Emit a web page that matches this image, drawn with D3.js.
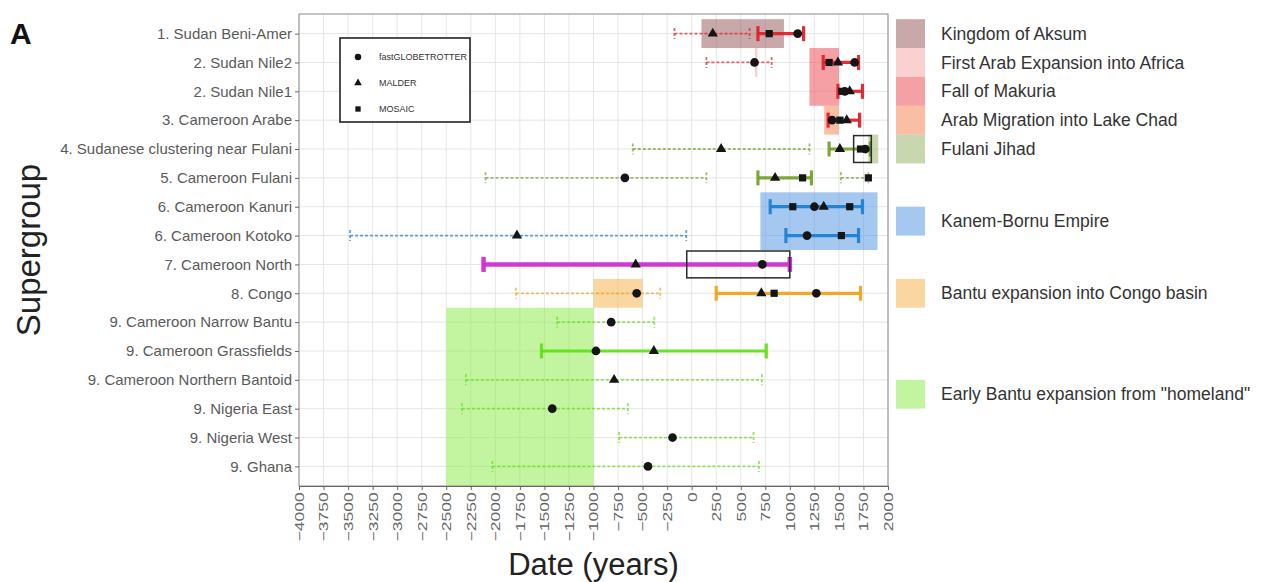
<!DOCTYPE html>
<html>
<head>
<meta charset="utf-8">
<script src="https://cdn.jsdelivr.net/npm/d3@7"></script>
<style>
  body { margin: 0; background: #fff; }
  text { font-family: "Liberation Sans", Arial, Helvetica, sans-serif; }
</style>
</head>
<body>
<div id="chart"></div>
<script>
// supergroups, top to bottom
const GROUPS = [
  "1. Sudan Beni-Amer",
  "2. Sudan Nile2",
  "2. Sudan Nile1",
  "3. Cameroon Arabe",
  "4. Sudanese clustering near Fulani",
  "5. Cameroon Fulani",
  "6. Cameroon Kanuri",
  "6. Cameroon Kotoko",
  "7. Cameroon North",
  "8. Congo",
  "9. Cameroon Narrow Bantu",
  "9. Cameroon Grassfields",
  "9. Cameroon Northern Bantoid",
  "9. Nigeria East",
  "9. Nigeria West",
  "9. Ghana"
];

const METHODS = ["fastGLOBETROTTER", "MALDER", "MOSAIC"];

const X_TICKS = d3.range(-4000, 2001, 250);

// date intervals (group index, low, high, kind)
const CI_GROUP = [0, 0, 1, 1, 2, 3, 4, 4, 5, 5, 5, 6, 7, 7, 8, 9, 9, 10, 11, 12, 13, 14, 15];
const CI_LOW   = [-175, 675, 150, 1340, 1490, 1390, -600, 1400, -2100, 675, 1520, 800, -3480, 960, -2120, -1790, 250, -1370, -1530, -2300, -2340, -740, -2030];
const CI_HIGH  = [590, 1140, 815, 1700, 1740, 1710, 1200, 1820, 150, 1220, 1800, 1740, -55, 1700, 1000, -320, 1720, -380, 760, 715, -650, 630, 685];
const CI_KIND  = ["alt", "main", "alt", "main", "main", "main", "alt", "main", "alt", "main", "alt", "main",
                  "alt", "main", "main", "alt", "main", "alt", "main", "alt", "alt", "alt", "alt"];

// point estimates
const PT_GROUP  = [0, 0, 0, 1, 1, 1, 1, 2, 2, 2, 3, 3, 3, 4, 4, 4, 4, 5, 5, 5, 5,
                   6, 6, 6, 6, 7, 7, 7, 8, 8, 9, 9, 9, 9, 10, 11, 11, 12, 13, 14, 15];
const PT_METHOD = ["MALDER", "MOSAIC", "fastGLOBETROTTER",
                   "fastGLOBETROTTER", "MOSAIC", "MALDER", "fastGLOBETROTTER",
                   "fastGLOBETROTTER", "MOSAIC", "MALDER",
                   "fastGLOBETROTTER", "MOSAIC", "MALDER",
                   "MALDER", "MALDER", "MOSAIC", "fastGLOBETROTTER",
                   "fastGLOBETROTTER", "MALDER", "MOSAIC", "MOSAIC",
                   "MOSAIC", "fastGLOBETROTTER", "MALDER", "MOSAIC",
                   "MALDER", "fastGLOBETROTTER", "MOSAIC",
                   "MALDER", "fastGLOBETROTTER",
                   "fastGLOBETROTTER", "MALDER", "MOSAIC", "fastGLOBETROTTER",
                   "fastGLOBETROTTER",
                   "fastGLOBETROTTER", "MALDER",
                   "MALDER",
                   "fastGLOBETROTTER",
                   "fastGLOBETROTTER",
                   "fastGLOBETROTTER"];
const PT_DATE   = [215, 790, 1080,
                   640, 1400, 1490, 1660,
                   1560, 1530, 1610,
                   1430, 1510, 1580,
                   300, 1510, 1720, 1770,
                   -680, 850, 1130, 1800,
                   1030, 1250, 1345, 1610,
                   -1780, 1175, 1525,
                   -570, 720,
                   -560, 710, 840, 1270,
                   -820,
                   -975, -385,
                   -790,
                   -1420,
                   -195,
                   -445];

// historical events
const EVENTS = [
  "Kingdom of Aksum",
  "First Arab Expansion into Africa",
  "Fall of Makuria",
  "Arab Migration into Lake Chad",
  "Fulani Jihad",
  "Kanem-Bornu Empire",
  "Bantu expansion into Congo basin",
  "Early Bantu expansion from \"homeland\""
];
const EVENT_START = [100, 645, 1200, 1350, 1800, 700, -1000, -2500];
const EVENT_END   = [940, 670, 1500, 1500, 1900, 1893, -500, -1000];
const EVENT_FIRST = [0, 1, 1, 3, 4, 6, 9, 10];
const EVENT_LAST  = [0, 1, 2, 3, 4, 7, 9, 15];

// highlighted boxes
const BOX_GROUP = [4, 8];
const BOX_START = [1650, -50];
const BOX_END   = [1830, 1000];

// ---- styles ----
const CLUSTER_COLOR = {
  "1": "#e3212d", "2": "#e3212d", "3": "#e3212d",
  "4": "#76a22e", "5": "#76a22e",
  "6": "#1f7fd4",
  "7": "#d02ed0",
  "8": "#f2a31c",
  "9": "#62e01a"
};
const EVENT_COLOR = ["#915151", "#f5a1a1", "#eb414b", "#f57d4b", "#91af5f", "#4b91e1", "#f5af41", "#87eb41"];

const FRAME_WIDTH = 1262;
const FRAME_HEIGHT = 582;
const PANEL = {left: 299, right: 888, top: 14, bottom: 486};

const X_SCALE = d3.scaleLinear()
                  .domain([-4000, 2000])
                  .range([PANEL.left, PANEL.right]);

const Y_SCALE = d3.scalePoint()
                  .domain(GROUPS)
                  .range([PANEL.top, PANEL.bottom])
                  .padding(0.68);

const STEP = Y_SCALE.step();
const rowY = (i) => Y_SCALE(GROUPS[0]) + i * STEP;

const SVG = d3.select("#chart")
              .append("svg")
                .attr("width", FRAME_WIDTH)
                .attr("height", FRAME_HEIGHT);

// grid
const GRID = SVG.append("g");
GRID.selectAll("line.vx")
    .data(X_TICKS)
    .enter()
    .append("line")
      .attr("x1", (d) => X_SCALE(d)).attr("x2", (d) => X_SCALE(d))
      .attr("y1", PANEL.top).attr("y2", PANEL.bottom)
      .attr("stroke", "#e6e6e6").attr("stroke-width", 1);
GRID.selectAll("line.hy")
    .data(GROUPS)
    .enter()
    .append("line")
      .attr("x1", PANEL.left).attr("x2", PANEL.right)
      .attr("y1", (d) => Y_SCALE(d)).attr("y2", (d) => Y_SCALE(d))
      .attr("stroke", "#e6e6e6").attr("stroke-width", 1);

// event shading in panel
const events = EVENTS.map((name, i) => ({
  name: name, start: EVENT_START[i], end: EVENT_END[i],
  first: EVENT_FIRST[i], last: EVENT_LAST[i], color: EVENT_COLOR[i]
}));

SVG.append("g")
   .selectAll("rect")
   .data(events)
   .enter()
   .append("rect")
     .attr("x", (d) => X_SCALE(d.start))
     .attr("width", (d) => X_SCALE(d.end) - X_SCALE(d.start))
     .attr("y", (d) => rowY(d.first) - STEP / 2)
     .attr("height", (d) => {
        let bottom = d.last === GROUPS.length - 1 ? PANEL.bottom : rowY(d.last) + STEP / 2;
        return bottom - (rowY(d.first) - STEP / 2);
     })
     .attr("fill", (d) => d.color)
     .attr("fill-opacity", 0.5);

// intervals
const intervals = CI_GROUP.map((g, i) => ({
  group: g, low: CI_LOW[i], high: CI_HIGH[i], kind: CI_KIND[i],
  color: CLUSTER_COLOR[GROUPS[g].split(".")[0]]
}));

const CI = SVG.append("g")
              .selectAll("g")
              .data(intervals)
              .enter()
              .append("g")
                .attr("stroke", (d) => d.color)
                .attr("stroke-opacity", (d) => d.kind === "main" ? 0.95 : 0.7)
                .attr("stroke-width", (d) => d.kind === "main" ? (d.group === 8 ? 4.5 : 3.2) : 1.8)
                .attr("stroke-dasharray", (d) => d.kind === "main" ? null : "3,2")
                .attr("fill", "none");

CI.append("line")
    .attr("x1", (d) => X_SCALE(d.low))
    .attr("x2", (d) => X_SCALE(d.high))
    .attr("y1", (d) => rowY(d.group))
    .attr("y2", (d) => rowY(d.group));

CI.each(function (d) {
  let half = d.kind === "main" ? 7.5 : 5.5;
  [d.low, d.high].forEach((v) => {
    d3.select(this).append("line")
      .attr("x1", X_SCALE(v)).attr("x2", X_SCALE(v))
      .attr("y1", rowY(d.group) - half).attr("y2", rowY(d.group) + half)
      .attr("stroke-dasharray", null);
  });
});

// points
const SHAPE = {
  "fastGLOBETROTTER": d3.symbolCircle,
  "MALDER": d3.symbolTriangle,
  "MOSAIC": d3.symbolSquare
};
const SIZE = {"fastGLOBETROTTER": 60, "MALDER": 46, "MOSAIC": 52};

const points = PT_GROUP.map((g, i) => ({group: g, method: PT_METHOD[i], date: PT_DATE[i]}));

SVG.append("g")
   .selectAll("path")
   .data(points)
   .enter()
   .append("path")
     .attr("d", (d) => d3.symbol().type(SHAPE[d.method]).size(SIZE[d.method])())
     .attr("transform", (d) => "translate(" + X_SCALE(d.date) + "," + rowY(d.group) + ")")
     .attr("fill", "#151515");

// highlight boxes
SVG.append("g")
   .selectAll("rect")
   .data(BOX_GROUP)
   .enter()
   .append("rect")
     .attr("x", (d, i) => X_SCALE(BOX_START[i]))
     .attr("width", (d, i) => X_SCALE(BOX_END[i]) - X_SCALE(BOX_START[i]))
     .attr("y", (d) => rowY(d) - STEP / 2 + 1)
     .attr("height", STEP - 2)
     .attr("fill", "none")
     .attr("stroke", "#2a2a2a")
     .attr("stroke-width", 1.5);

// panel border
SVG.append("rect")
   .attr("x", PANEL.left).attr("y", PANEL.top)
   .attr("width", PANEL.right - PANEL.left)
   .attr("height", PANEL.bottom - PANEL.top)
   .attr("fill", "none")
   .attr("stroke", "#8c8c8c")
   .attr("stroke-width", 1);

// x axis
const X_AXIS = SVG.append("g")
    .attr("transform", "translate(0," + PANEL.bottom + ")")
    .call(d3.axisBottom(X_SCALE).tickValues(X_TICKS).tickFormat(d3.format("d")).tickSize(4));
X_AXIS.select(".domain").attr("stroke", "#666");
X_AXIS.selectAll(".tick line").attr("stroke", "#666");
X_AXIS.selectAll(".tick text")
    .attr("transform", "rotate(-90) scale(1.4,1)")
    .attr("x", -4.5).attr("y", 0).attr("dy", "0.35em")
    .attr("text-anchor", "end")
    .attr("fill", "#666")
    .attr("font-size", "12.5px");

// y axis
const Y_AXIS = SVG.append("g")
    .attr("transform", "translate(" + PANEL.left + ",0)")
    .call(d3.axisLeft(Y_SCALE).tickSize(4).tickPadding(3));
Y_AXIS.select(".domain").remove();
Y_AXIS.selectAll(".tick line").attr("stroke", "#666");
Y_AXIS.selectAll(".tick text")
    .attr("fill", "#5a5a5a")
    .attr("font-size", "15px");

// axis titles
SVG.append("text")
   .attr("x", (PANEL.left + PANEL.right) / 2)
   .attr("y", 575)
   .attr("text-anchor", "middle")
   .attr("font-size", "31px")
   .attr("fill", "#222")
   .text("Date (years)");

SVG.append("text")
   .attr("transform", "translate(40," + ((PANEL.top + PANEL.bottom) / 2) + ") rotate(-90)")
   .attr("text-anchor", "middle")
   .attr("font-size", "33px")
   .attr("fill", "#222")
   .text("Supergroup");

SVG.append("text")
   .attr("x", 10).attr("y", 44)
   .attr("font-size", "30px")
   .attr("font-weight", "bold")
   .attr("fill", "#111")
   .text("A");

// method legend inside panel
const LEG = SVG.append("g").attr("transform", "translate(340,38)");
LEG.append("rect")
   .attr("width", 130).attr("height", 84)
   .attr("fill", "#fff")
   .attr("stroke", "#222").attr("stroke-width", 1.6);
LEG.selectAll("path")
   .data(METHODS)
   .enter()
   .append("path")
     .attr("d", (d) => d3.symbol().type(SHAPE[d]).size(SIZE[d] * 0.55)())
     .attr("transform", (d, i) => "translate(18," + (19 + i * 26) + ")")
     .attr("fill", "#151515");
LEG.selectAll("text")
   .data(METHODS)
   .enter()
   .append("text")
     .attr("x", 39)
     .attr("y", (d, i) => 19 + i * 26)
     .attr("dy", "0.35em")
     .attr("font-size", "9px")
     .attr("fill", "#333")
     .text((d) => d);

// event legend on the right, aligned with rows
let prev = -Infinity;
const slots = events.map((d) => {
  let s = Math.max((d.first + d.last) / 2, prev + 1);
  prev = s;
  return s;
});

const ELEG = SVG.append("g");
ELEG.selectAll("rect")
    .data(events)
    .enter()
    .append("rect")
      .attr("x", 896)
      .attr("width", 29)
      .attr("y", (d, i) => rowY(slots[i]) - STEP / 2)
      .attr("height", STEP)
      .attr("fill", (d) => d.color)
      .attr("fill-opacity", 0.5);
ELEG.selectAll("text")
    .data(events)
    .enter()
    .append("text")
      .attr("x", 941)
      .attr("y", (d, i) => rowY(slots[i]))
      .attr("dy", "0.35em")
      .attr("font-size", "17.5px")
      .attr("fill", "#333")
      .text((d) => d.name);
</script>
</body>
</html>
